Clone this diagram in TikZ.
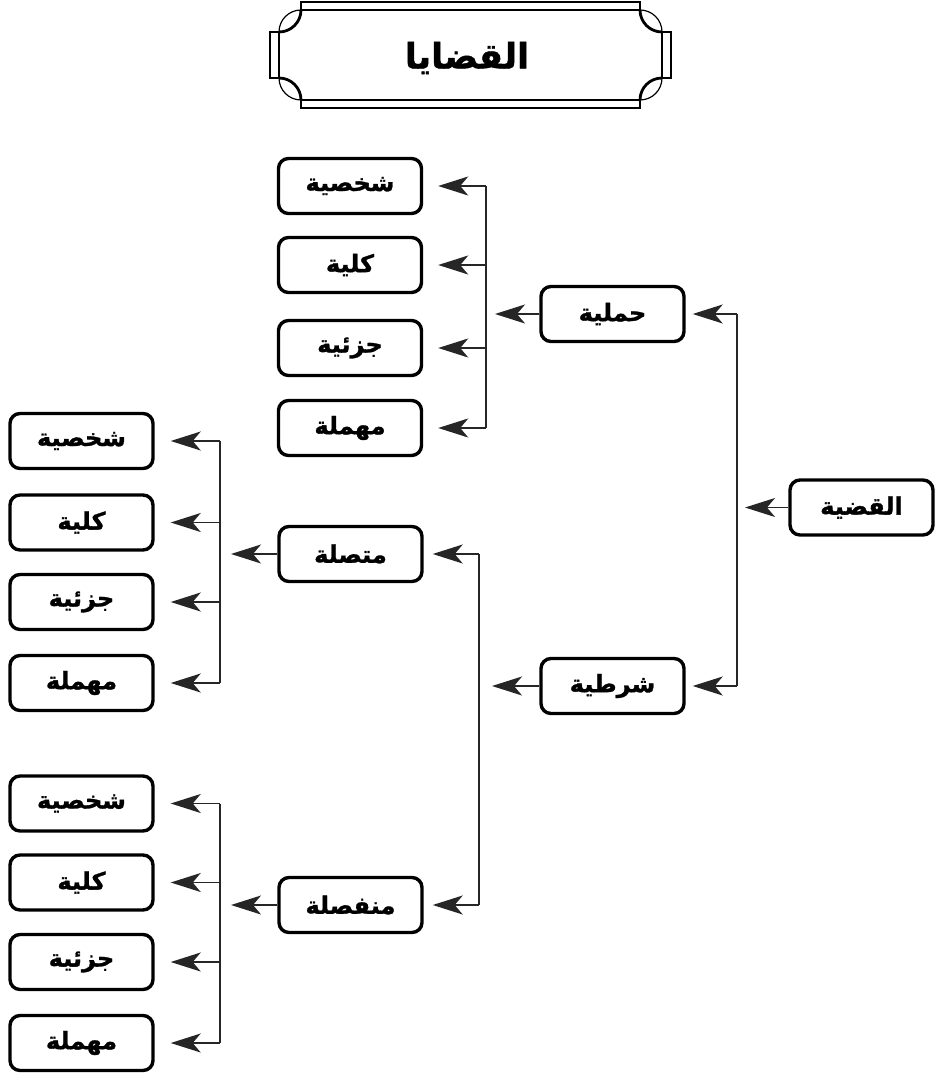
\documentclass[tikz,border=0pt]{standalone}
\usepackage{fontspec}
\usetikzlibrary{arrows.meta,calc}
\TeXXeTstate=1
\newfontfamily\arabicfont[Script=Arabic, BoldFeatures={FakeBold=1.2}]{DejaVu Sans}
\newcommand{\artxt}[1]{\arabicfont\bfseries\beginR #1\endR}
\begin{document}
\begin{tikzpicture}[x=1pt,y=1pt,
  box/.style={draw, line width=3.4pt, rounded corners=10pt, minimum width=143pt,
    minimum height=55pt, inner sep=0pt, font=\fontsize{24}{24}\selectfont},
  conn/.style={line width=1.7pt, draw=black!85},
  arr/.style={conn, -{Stealth[length=30pt,width=19pt,inset=8pt]}},
  thickline/.style={line width=2.8pt},
  thinline/.style={line width=1.2pt}]
\useasboundingbox (0,0) rectangle (934,-1075);

% ---- title frame ----
\draw[thickline] (301,-10) -- (301,-2) -- (640,-2) -- (640,-10);
\draw[thickline] (640,-100) -- (640,-108) -- (301,-108) -- (301,-100);
\draw[thickline] (279,-78) -- (270,-78) -- (270,-32) -- (279,-32);
\draw[thickline] (662,-32) -- (671,-32) -- (671,-78) -- (662,-78);
\draw[thickline] (301,-10) arc[start angle=0, end angle=-90, radius=22];
\draw[thickline] (640,-10) arc[start angle=180, end angle=270, radius=22];
\draw[thickline] (279,-78) arc[start angle=90, end angle=0, radius=22];
\draw[thickline] (662,-78) arc[start angle=90, end angle=180, radius=22];
\draw[thinline] (301,-10) -- (640,-10);
\draw[thinline] (301,-100) -- (640,-100);
\draw[thinline] (279,-32) -- (279,-78);
\draw[thinline] (662,-32) -- (662,-78);
\draw[thinline] (640,-10) arc[start angle=90, end angle=0, radius=22];
\draw[thinline] (301,-10) arc[start angle=90, end angle=180, radius=22];
\draw[thinline] (279,-78) arc[start angle=180, end angle=270, radius=22];
\draw[thinline] (640,-100) arc[start angle=270, end angle=360, radius=22];
\node (title) at (467,-58) {\fontsize{35}{35}\selectfont\artxt{القضايا}};

% ---- nodes ----
\node[box] (qadiya) at (861.5,-507.5) {\artxt{القضية}};
\node[box] (hamliya) at (612.5,-314) {\artxt{حملية}};
\node[box] (shartiya) at (612.5,-686) {\artxt{شرطية}};

\node[box] (h1) at (350,-186) {\artxt{شخصية}};
\node[box] (h2) at (350,-265) {\artxt{كلية}};
\node[box] (h3) at (350,-348) {\artxt{جزئية}};
\node[box] (h4) at (350,-428) {\artxt{مهملة}};

\node[box] (muttasila) at (350.5,-554) {\artxt{متصلة}};
\node[box] (munfasila) at (350.5,-905) {\artxt{منفصلة}};

\node[box] (m1) at (81.5,-441) {\artxt{شخصية}};
\node[box] (m2) at (81.5,-522.5) {\artxt{كلية}};
\node[box] (m3) at (81.5,-602) {\artxt{جزئية}};
\node[box] (m4) at (81.5,-683) {\artxt{مهملة}};

\node[box] (f1) at (81.5,-803.5) {\artxt{شخصية}};
\node[box] (f2) at (81.5,-882.5) {\artxt{كلية}};
\node[box] (f3) at (81.5,-962) {\artxt{جزئية}};
\node[box] (f4) at (81.5,-1043) {\artxt{مهملة}};

% ---- bracket coordinates ----
\coordinate (bR) at (737,-507.5);
\coordinate (bH) at (486,-314);
\coordinate (bS) at (479,-686);
\coordinate (bM) at (220,-554);
\coordinate (bF) at (220,-905);

% root
\draw[arr, shorten >=8pt] (qadiya.west) -- (qadiya.west -| bR);
\draw[conn] (bR |- hamliya.east) -- (bR |- shartiya.east);
\draw[arr, shorten >=7pt] (bR |- hamliya.east) -- (hamliya.east);
\draw[arr, shorten >=7pt] (bR |- shartiya.east) -- (shartiya.east);

% hamliya
\draw[arr, shorten >=9pt] (hamliya.west) -- (bH);
\draw[conn] (bH |- h1.east) -- (bH |- h4.east);
\foreach \n in {h1,h2,h3,h4}
  \draw[arr, shorten >=15pt] (bH |- \n.east) -- (\n.east);

% shartiya
\draw[arr, shorten >=13pt] (shartiya.west) -- (bS);
\draw[conn] (bS |- muttasila.east) -- (bS |- munfasila.east);
\draw[arr, shorten >=9pt] (bS |- muttasila.east) -- (muttasila.east);
\draw[arr, shorten >=9pt] (bS |- munfasila.east) -- (munfasila.east);

% muttasila
\draw[arr, shorten >=11pt] (muttasila.west) -- (bM);
\draw[conn] (bM |- m1.east) -- (bM |- m4.east);
\foreach \n in {m1,m2,m3,m4}
  \draw[arr, shorten >=16pt] (bM |- \n.east) -- (\n.east);

% munfasila
\draw[arr, shorten >=11pt] (munfasila.west) -- (bF);
\draw[conn] (bF |- f1.east) -- (bF |- f4.east);
\foreach \n in {f1,f2,f3,f4}
  \draw[arr, shorten >=16pt] (bF |- \n.east) -- (\n.east);
\end{tikzpicture}
\end{document}
